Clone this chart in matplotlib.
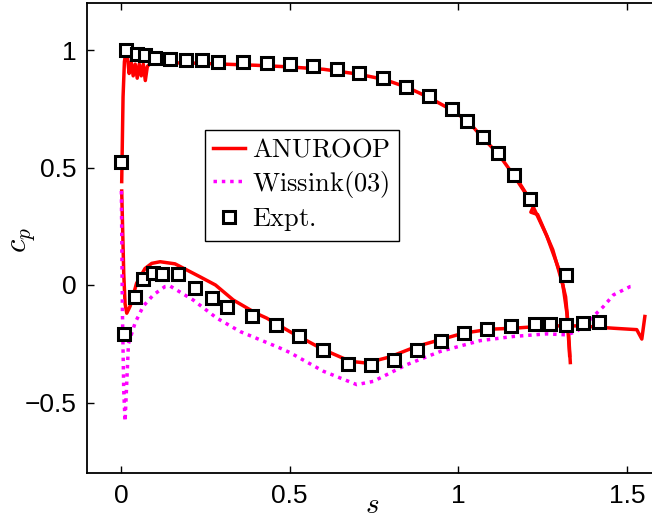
import matplotlib
matplotlib.use("Agg")
import matplotlib.pyplot as plt

plt.rcParams['mathtext.fontset'] = 'cm'
plt.rcParams['font.family'] = ['Liberation Sans', 'DejaVu Sans']

# ANUROOP, upper surface (s, cp)
anu_up_s = [0.002, 0.006, 0.010, 0.014, 0.018, 0.024, 0.030, 0.036, 0.042, 0.048, 0.054,
            0.060, 0.066, 0.072, 0.078, 0.085, 0.10, 0.20, 0.30, 0.40, 0.50, 0.60, 0.70,
            0.78, 0.85, 0.91, 0.98, 1.03, 1.07, 1.12, 1.165, 1.213, 1.262, 1.30, 1.318,
            1.325, 1.332]
anu_up_cp = [0.44, 0.80, 0.95, 0.99, 0.985, 0.90, 0.95, 0.89, 0.94, 0.88, 0.94,
             0.89, 0.94, 0.87, 0.93, 0.94, 0.945, 0.945, 0.94, 0.935, 0.928, 0.918, 0.898,
             0.875, 0.84, 0.80, 0.745, 0.695, 0.63, 0.555, 0.465, 0.36, 0.21, 0.06, -0.05,
             -0.16, -0.33]

# second ANUROOP trace near the trailing edge (the thick wedge)
anu_te_s = [1.17, 1.205, 1.225, 1.215, 1.235, 1.28, 1.31, 1.322, 1.33]
anu_te_cp = [0.46, 0.38, 0.34, 0.31, 0.30, 0.15, 0.0, -0.12, -0.30]

# ANUROOP, lower surface
anu_lo_s = [0.002, 0.008, 0.012, 0.017, 0.027, 0.046, 0.071, 0.091, 0.116, 0.16, 0.234,
            0.28, 0.333, 0.40, 0.432, 0.50, 0.60, 0.68, 0.728, 0.797, 0.877, 0.946, 1.015,
            1.094, 1.163, 1.262, 1.36, 1.46, 1.529, 1.544, 1.553]
anu_lo_cp = [0.40, 0.05, -0.08, -0.12, -0.09, 0.007, 0.07, 0.092, 0.099, 0.09, 0.035,
             0.0, -0.064, -0.12, -0.141, -0.198, -0.275, -0.325, -0.332, -0.306, -0.261,
             -0.233, -0.205, -0.188, -0.184, -0.174, -0.174, -0.184, -0.19, -0.23, -0.134]

# Wissink (03)
wis_s = [0.001, 0.004, 0.008, 0.012, 0.022, 0.042, 0.066, 0.096, 0.13, 0.145, 0.214,
         0.284, 0.353, 0.471, 0.50, 0.60, 0.699, 0.748, 0.847, 0.946, 1.064, 1.163,
         1.262, 1.32, 1.351, 1.39, 1.43, 1.46, 1.509, 1.52]
wis_cp = [0.40, -0.10, -0.45, -0.58, -0.25, -0.16, -0.09, -0.042, -0.007, -0.004, -0.064,
          -0.141, -0.198, -0.268, -0.287, -0.367, -0.424, -0.41, -0.339, -0.283, -0.237,
          -0.219, -0.208, -0.212, -0.198, -0.148, -0.092, -0.042, -0.007, -0.005]

# experiment
exp_s = [0.0, 0.015, 0.047, 0.071, 0.10, 0.145, 0.193, 0.239, 0.288, 0.361, 0.432,
         0.501, 0.568, 0.640, 0.707, 0.778, 0.844, 0.913, 0.980, 1.027, 1.072, 1.119,
         1.165, 1.213, 1.319,
         0.010, 0.042, 0.066, 0.094, 0.121, 0.170, 0.219, 0.269, 0.315, 0.387, 0.460,
         0.527, 0.600, 0.672, 0.741, 0.810, 0.878, 0.948, 1.017, 1.084, 1.155, 1.227,
         1.272, 1.319, 1.369, 1.417]
exp_cp = [0.525, 0.999, 0.984, 0.979, 0.967, 0.960, 0.958, 0.956, 0.950, 0.949, 0.944,
          0.939, 0.932, 0.921, 0.904, 0.880, 0.844, 0.805, 0.749, 0.699, 0.631, 0.561,
          0.470, 0.366, 0.042,
          -0.208, -0.050, 0.024, 0.052, 0.045, 0.045, -0.011, -0.054, -0.092, -0.130,
          -0.169, -0.215, -0.275, -0.335, -0.340, -0.318, -0.275, -0.240, -0.205, -0.188,
          -0.174, -0.165, -0.165, -0.169, -0.162, -0.156]

fig = plt.figure(figsize=(6.52, 5.19), dpi=100)
ax = fig.add_axes([87.3 / 652, 46 / 519, 573.4 / 652, 470 / 519])

ax.plot(anu_up_s, anu_up_cp, color='#ff0000', lw=2.5, label=r'$\mathrm{ANUROOP}$')
ax.plot(anu_te_s, anu_te_cp, color='#ff0000', lw=2.5)
ax.plot(anu_lo_s, anu_lo_cp, color='#ff0000', lw=2.5)
ax.plot(wis_s, wis_cp, color='#ff00ff', lw=2.5, ls=(0, (1, 1.4)),
        label=r'$\mathrm{Wissink(03)}$')
ax.plot(exp_s, exp_cp, ls='none', marker='s', ms=8.5, mfc='white', mec='black',
        mew=2.2, label=r'$\mathrm{Expt.}$')

ax.set_xlim(-0.1, 1.6)
ax.set_ylim(-0.8, 1.2)
ax.set_xticks([0, 0.5, 1, 1.5])
ax.set_xticklabels(['0', '0.5', '1', '1.5'])
ax.set_yticks([-0.5, 0, 0.5, 1])
ax.set_yticklabels(['\u22120.5', '0', '0.5', '1'])
ax.tick_params(direction='in', length=5, width=1, labelsize=19, top=True, right=True, pad=8)
for sp in ax.spines.values():
    sp.set_linewidth(1.3)

# axis labels placed where the reference has them
fig.text(372 / 652, 1 - 505 / 519, r'$s$', fontsize=21, ha='center', va='center')
fig.text(22 / 652, 1 - 240 / 519, r'$c_p$', fontsize=22, ha='center', va='center',
         rotation=90)

leg = ax.legend(loc='upper left', bbox_to_anchor=(205 / 652, 1 - 130 / 519),
                bbox_transform=fig.transFigure, borderaxespad=0, fancybox=False,
                framealpha=1, edgecolor='black', fontsize=19, handlelength=1.2,
                handletextpad=0.3, labelspacing=0.25, borderpad=0.3)
leg.get_frame().set_linewidth(1.0)

fig.savefig('out.png', dpi=100)
